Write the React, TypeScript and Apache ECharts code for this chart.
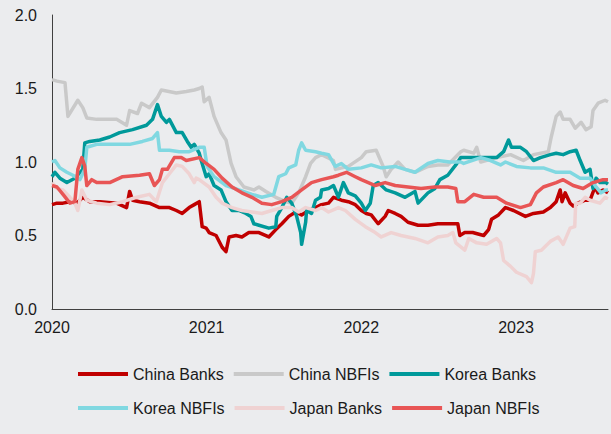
import React, { useEffect, useRef } from "react";
import * as echarts from "echarts";

const seriesNames = ["China Banks", "China NBFIs", "Korea Banks", "Korea NBFIs", "Japan Banks", "Japan NBFIs"];
const yTicks = [0, 0.5, 1.0, 1.5, 2.0];
const xYears = [2020, 2021, 2022, 2023];

const chinaBanks: (number | string)[][] = [
  [2020.000,0.71],[2020.032,0.72],[2020.071,0.72],[2020.116,0.73],[2020.161,0.72],[2020.199,0.76],[2020.244,0.73],[2020.309,0.73],[2020.418,0.72],[2020.482,0.69],[2020.502,0.80],[2020.521,0.74],[2020.566,0.73],[2020.630,0.72],[2020.695,0.69],[2020.759,0.69],[2020.804,0.67],[2020.842,0.65],[2020.887,0.69],[2020.920,0.71],[2020.952,0.73],[2020.971,0.56],[2020.997,0.55],[2021.016,0.52],[2021.061,0.50],[2021.100,0.42],[2021.125,0.39],[2021.145,0.49],[2021.190,0.50],[2021.228,0.49],[2021.273,0.52],[2021.338,0.52],[2021.402,0.49],[2021.447,0.54],[2021.486,0.58],[2021.531,0.63],[2021.576,0.66],[2021.614,0.64],[2021.659,0.67],[2021.704,0.69],[2021.743,0.71],[2021.788,0.72],[2021.820,0.76],[2021.871,0.74],[2021.916,0.73],[2021.961,0.71],[2022.000,0.67],[2022.032,0.65],[2022.064,0.64],[2022.109,0.58],[2022.154,0.63],[2022.174,0.67],[2022.219,0.65],[2022.257,0.63],[2022.302,0.59],[2022.367,0.57],[2022.431,0.57],[2022.495,0.58],[2022.559,0.58],[2022.624,0.58],[2022.637,0.50],[2022.669,0.52],[2022.720,0.52],[2022.791,0.50],[2022.823,0.54],[2022.842,0.61],[2022.887,0.64],[2022.932,0.69],[2022.984,0.67],[2023.061,0.63],[2023.113,0.65],[2023.177,0.66],[2023.222,0.69],[2023.260,0.73],[2023.286,0.81],[2023.298,0.73],[2023.318,0.79],[2023.350,0.72],[2023.370,0.70],[2023.400,0.72],[2023.447,0.74],[2023.479,0.74],[2023.511,0.83],[2023.530,0.79],[2023.563,0.81],[2023.595,0.79]
];

const chinaNBFIs: (number | string)[][] = [
  [2020.000,1.56],[2020.032,1.55],[2020.084,1.54],[2020.103,1.31],[2020.167,1.42],[2020.199,1.37],[2020.225,1.30],[2020.289,1.29],[2020.418,1.29],[2020.482,1.25],[2020.502,1.35],[2020.553,1.33],[2020.579,1.40],[2020.630,1.37],[2020.682,1.44],[2020.707,1.49],[2020.804,1.47],[2020.868,1.48],[2020.920,1.49],[2020.952,1.50],[2020.971,1.51],[2020.984,1.41],[2021.016,1.44],[2021.048,1.31],[2021.093,1.20],[2021.125,1.15],[2021.158,0.99],[2021.190,0.90],[2021.241,0.83],[2021.305,0.81],[2021.338,0.83],[2021.383,0.80],[2021.447,0.76],[2021.511,0.73],[2021.550,0.72],[2021.595,0.79],[2021.640,0.90],[2021.672,0.99],[2021.704,1.03],[2021.743,1.05],[2021.820,1.01],[2021.833,0.95],[2021.916,0.97],[2022.000,1.03],[2022.032,1.07],[2022.096,1.08],[2022.141,0.97],[2022.161,0.90],[2022.193,0.95],[2022.238,1.00],[2022.283,0.95],[2022.347,0.93],[2022.431,0.97],[2022.495,0.98],[2022.559,0.98],[2022.643,1.07],[2022.662,1.08],[2022.727,1.06],[2022.746,1.10],[2022.772,1.00],[2022.875,1.03],[2022.965,1.05],[2023.048,1.01],[2023.113,1.05],[2023.209,1.07],[2023.228,1.17],[2023.260,1.31],[2023.286,1.34],[2023.305,1.29],[2023.350,1.29],[2023.383,1.23],[2023.421,1.27],[2023.453,1.22],[2023.486,1.24],[2023.498,1.35],[2023.531,1.40],[2023.576,1.42],[2023.595,1.41]
];

const koreaBanks: (number | string)[][] = [
  [2020.000,0.90],[2020.019,0.93],[2020.051,0.89],[2020.096,0.86],[2020.148,0.89],[2020.199,0.95],[2020.212,1.13],[2020.244,1.14],[2020.309,1.15],[2020.373,1.17],[2020.437,1.20],[2020.521,1.22],[2020.611,1.25],[2020.650,1.29],[2020.682,1.39],[2020.707,1.31],[2020.740,1.27],[2020.759,1.29],[2020.804,1.20],[2020.842,1.20],[2020.875,1.14],[2020.900,1.10],[2020.920,1.12],[2020.952,1.06],[2020.965,1.01],[2020.997,0.90],[2021.016,0.92],[2021.048,0.84],[2021.093,0.81],[2021.125,0.73],[2021.164,0.67],[2021.209,0.67],[2021.254,0.65],[2021.286,0.63],[2021.305,0.58],[2021.338,0.57],[2021.402,0.55],[2021.447,0.56],[2021.453,0.63],[2021.486,0.69],[2021.518,0.76],[2021.550,0.72],[2021.582,0.63],[2021.608,0.52],[2021.614,0.44],[2021.640,0.59],[2021.646,0.67],[2021.678,0.65],[2021.704,0.74],[2021.736,0.76],[2021.743,0.81],[2021.788,0.82],[2021.820,0.84],[2021.852,0.76],[2021.884,0.86],[2021.916,0.79],[2021.961,0.77],[2022.000,0.72],[2022.026,0.67],[2022.058,0.72],[2022.077,0.84],[2022.109,0.86],[2022.161,0.81],[2022.219,0.79],[2022.283,0.76],[2022.347,0.80],[2022.367,0.72],[2022.431,0.79],[2022.476,0.82],[2022.508,0.88],[2022.559,0.91],[2022.611,0.98],[2022.643,1.03],[2022.688,1.03],[2022.727,1.03],[2022.791,1.03],[2022.875,1.03],[2022.920,1.07],[2022.952,1.15],[2022.971,1.10],[2023.029,1.10],[2023.068,1.07],[2023.113,1.01],[2023.158,1.03],[2023.222,1.05],[2023.260,1.06],[2023.305,1.05],[2023.350,1.07],[2023.389,1.08],[2023.415,1.01],[2023.447,0.93],[2023.479,0.95],[2023.498,0.82],[2023.518,0.89],[2023.543,0.86],[2023.582,0.86],[2023.595,0.85]
];

const koreaNBFIs: (number | string)[][] = [
  [2020.000,1.00],[2020.019,1.01],[2020.051,0.96],[2020.096,0.93],[2020.135,0.91],[2020.180,0.88],[2020.212,0.95],[2020.225,1.10],[2020.289,1.12],[2020.418,1.12],[2020.502,1.12],[2020.585,1.14],[2020.650,1.16],[2020.682,1.20],[2020.695,1.08],[2020.759,1.08],[2020.823,1.07],[2020.887,1.07],[2020.952,1.10],[2020.984,1.10],[2021.003,0.97],[2021.048,0.90],[2021.125,0.84],[2021.209,0.81],[2021.293,0.78],[2021.357,0.76],[2021.434,0.78],[2021.466,0.90],[2021.511,0.92],[2021.531,0.96],[2021.576,0.98],[2021.595,1.08],[2021.614,1.13],[2021.640,1.08],[2021.704,1.07],[2021.743,1.06],[2021.788,1.05],[2021.820,0.99],[2021.833,0.97],[2021.871,0.99],[2021.916,0.95],[2022.000,0.96],[2022.064,0.98],[2022.129,0.96],[2022.219,0.97],[2022.283,0.95],[2022.347,0.93],[2022.431,0.99],[2022.495,1.01],[2022.572,1.00],[2022.643,1.00],[2022.662,0.99],[2022.772,1.03],[2022.836,1.01],[2022.900,0.98],[2022.932,1.00],[2023.003,0.97],[2023.093,0.96],[2023.177,0.96],[2023.260,0.93],[2023.350,0.93],[2023.415,0.89],[2023.479,0.89],[2023.518,0.83],[2023.550,0.79],[2023.582,0.81],[2023.595,0.81]
];

const japanBanks: (number | string)[][] = [
  [2020.000,0.86],[2020.032,0.82],[2020.071,0.81],[2020.116,0.76],[2020.148,0.72],[2020.167,0.67],[2020.193,0.81],[2020.225,0.74],[2020.289,0.72],[2020.373,0.71],[2020.457,0.73],[2020.547,0.76],[2020.630,0.78],[2020.675,0.73],[2020.714,0.86],[2020.759,0.92],[2020.804,0.98],[2020.842,0.97],[2020.887,0.92],[2020.920,0.86],[2020.932,0.89],[2020.952,0.88],[2021.016,0.83],[2021.061,0.76],[2021.100,0.72],[2021.164,0.69],[2021.228,0.67],[2021.293,0.66],[2021.357,0.65],[2021.421,0.67],[2021.486,0.69],[2021.550,0.69],[2021.595,0.66],[2021.640,0.69],[2021.704,0.67],[2021.743,0.69],[2021.788,0.66],[2021.852,0.69],[2021.897,0.67],[2021.961,0.61],[2022.026,0.56],[2022.090,0.52],[2022.129,0.49],[2022.193,0.52],[2022.257,0.50],[2022.347,0.48],[2022.431,0.45],[2022.495,0.49],[2022.559,0.50],[2022.592,0.52],[2022.611,0.45],[2022.669,0.40],[2022.695,0.48],[2022.746,0.45],[2022.810,0.44],[2022.875,0.48],[2022.900,0.45],[2022.920,0.33],[2022.965,0.29],[2023.003,0.25],[2023.068,0.22],[2023.100,0.18],[2023.113,0.24],[2023.125,0.39],[2023.164,0.40],[2023.222,0.46],[2023.273,0.49],[2023.305,0.44],[2023.350,0.55],[2023.380,0.56],[2023.386,0.72],[2023.415,0.72],[2023.447,0.76],[2023.479,0.74],[2023.543,0.72],[2023.576,0.76],[2023.595,0.75]
];

const japanNBFIs: (number | string)[][] = [
  [2020.000,0.84],[2020.032,0.83],[2020.071,0.78],[2020.116,0.72],[2020.148,0.73],[2020.167,0.95],[2020.193,1.03],[2020.212,0.97],[2020.225,0.84],[2020.257,0.88],[2020.289,0.86],[2020.373,0.86],[2020.457,0.90],[2020.566,0.91],[2020.630,0.92],[2020.662,0.84],[2020.695,0.88],[2020.714,0.95],[2020.746,0.95],[2020.791,1.03],[2020.836,1.03],[2020.868,1.01],[2020.952,1.03],[2020.997,0.99],[2021.048,0.95],[2021.100,0.89],[2021.164,0.83],[2021.228,0.79],[2021.293,0.76],[2021.357,0.72],[2021.421,0.71],[2021.486,0.73],[2021.550,0.76],[2021.614,0.81],[2021.678,0.86],[2021.743,0.88],[2021.820,0.90],[2021.852,0.91],[2021.904,0.93],[2021.961,0.90],[2022.000,0.88],[2022.090,0.84],[2022.154,0.86],[2022.219,0.84],[2022.302,0.83],[2022.386,0.82],[2022.476,0.83],[2022.559,0.83],[2022.611,0.82],[2022.624,0.73],[2022.669,0.73],[2022.727,0.78],[2022.791,0.76],[2022.875,0.76],[2022.939,0.72],[2023.029,0.69],[2023.093,0.71],[2023.132,0.79],[2023.177,0.83],[2023.260,0.86],[2023.305,0.88],[2023.370,0.84],[2023.434,0.82],[2023.498,0.86],[2023.563,0.88],[2023.595,0.88]
];

const seriesData = [chinaBanks, chinaNBFIs, koreaBanks, koreaNBFIs, japanBanks, japanNBFIs];
const seriesColors = ["#c00000", "#c9c9c9", "#00999a", "#80d8e1", "#efd2d2", "#e85555"];

const FONT = "'Liberation Sans', Arial, sans-serif";
const TEXT_COLOR = "#1a1a1a";

export default function App() {
  const ref = useRef<HTMLDivElement>(null);

  useEffect(() => {
    document.body.style.margin = "0";
    document.body.style.background = "#ebecee";
    if (!ref.current) return;
    const chart = echarts.init(ref.current, undefined, { renderer: "svg" });

    const legendCommon = {
      left: 78,
      orient: "horizontal" as const,
      icon: "rect",
      itemWidth: 50,
      itemHeight: 4,
      itemGap: 10,
      padding: 0,
      textStyle: { fontSize: 16, color: TEXT_COLOR, fontFamily: FONT },
    };

    chart.setOption({
      animation: false,
      backgroundColor: "#ebecee",
      textStyle: { fontFamily: FONT },
      grid: { left: 52, right: 0, top: 15, bottom: 125, containLabel: false },
      legend: [
        { ...legendCommon, top: 366, data: seriesNames.slice(0, 3) },
        { ...legendCommon, top: 400, data: seriesNames.slice(3, 6) },
      ],
      xAxis: {
        type: "value",
        min: xYears[0],
        max: 2023.595,
        interval: 1,
        axisLine: { show: true, lineStyle: { color: "#404040", width: 1 } },
        axisTick: { show: false },
        splitLine: { show: false },
        axisLabel: {
          fontSize: 16,
          color: TEXT_COLOR,
          fontFamily: FONT,
          margin: 10,
          formatter: (v: number) => (xYears.includes(Math.round(v)) && Math.abs(v - Math.round(v)) < 1e-6 ? String(Math.round(v)) : ""),
        },
      },
      yAxis: {
        type: "value",
        min: yTicks[0],
        max: yTicks[yTicks.length - 1],
        interval: 0.5,
        axisLine: { show: true, lineStyle: { color: "#404040", width: 1 } },
        axisTick: { show: false },
        splitLine: { show: false },
        axisLabel: {
          fontSize: 16,
          color: TEXT_COLOR,
          fontFamily: FONT,
          margin: 15,
          formatter: (v: number) => v.toFixed(1),
        },
      },
      series: seriesNames.map((name, i) => ({
        name,
        type: "line",
        data: seriesData[i],
        symbol: "none",
        showSymbol: false,
        color: seriesColors[i],
        itemStyle: { color: seriesColors[i] },
        lineStyle: { color: seriesColors[i], width: 3.5, join: "round" },
        emphasis: { disabled: true },
      })),
    });

    return () => chart.dispose();
  }, []);

  return <div ref={ref} style={{ width: 611, height: 434 }} />;
}
